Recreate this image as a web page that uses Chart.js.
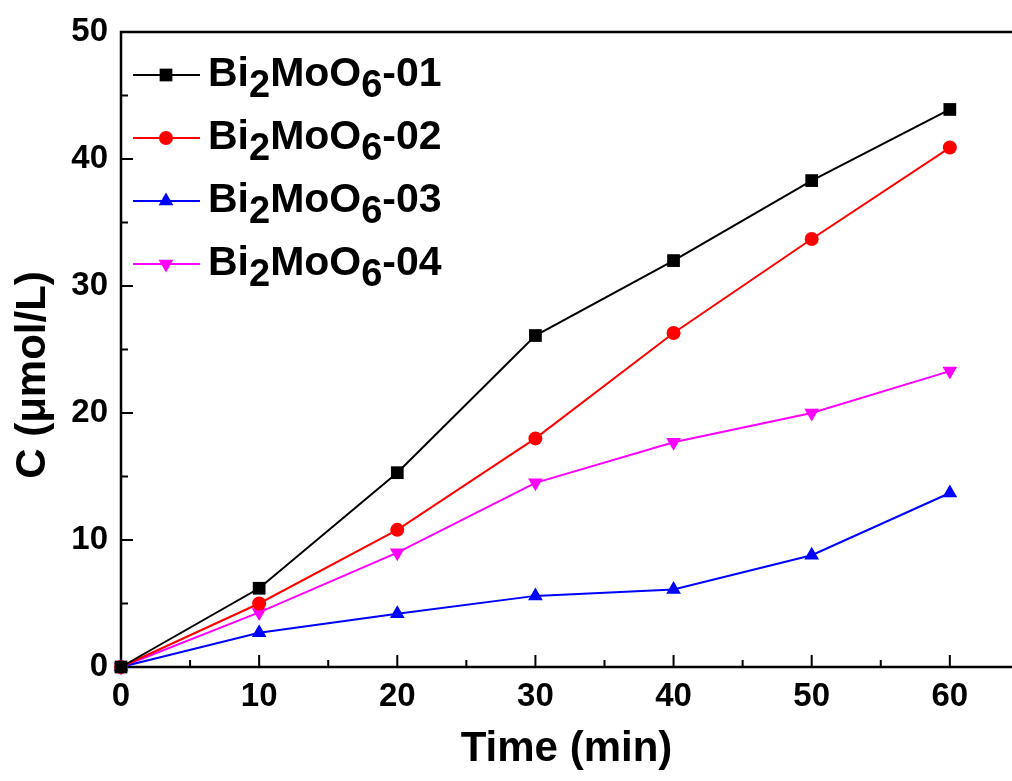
<!DOCTYPE html>
<html>
<head>
<meta charset="utf-8">
<script src="https://cdn.jsdelivr.net/npm/chart.js@4/dist/chart.umd.min.js"></script>
<style>
  body { margin: 0; background: #fff; }
  canvas { display: block; }
</style>
</head>
<body>
<canvas id="chart" width="1012" height="781"></canvas>
<script>
// data
const times = [0, 10, 20, 30, 40, 50, 60];
const bmo01 = [0, 6.2, 15.3, 26.1, 32.0, 38.3, 43.9];
const bmo02 = [0, 5.0, 10.8, 18.0, 26.3, 33.7, 40.9];
const bmo03 = [0, 2.7, 4.2, 5.6, 6.1, 8.8, 13.7];
const bmo04 = [0, 4.3, 9.0, 14.5, 17.7, 20.0, 23.3];
const sampleIds = ["01", "02", "03", "04"];
const xTicks = [0, 10, 20, 30, 40, 50, 60];
const yTicks = [0, 10, 20, 30, 40, 50];
const yTitle = "C (μmol/L)";

const FONT = "'Liberation Sans', Arial, sans-serif";

const toPoints = (ys) => times.map((t, i) => ({ x: t, y: ys[i] }));

function makeSet(id, ys, color, style, radius, rotation) {
  return {
    label: "Bi2MoO6-" + id,
    data: toPoints(ys),
    borderColor: color,
    backgroundColor: color,
    borderWidth: 2,
    pointStyle: style,
    pointRadius: radius,
    pointRotation: rotation || 0,
    pointBorderWidth: 0,
    tension: 0,
    clip: false,
  };
}

const datasets = [
  makeSet(sampleIds[0], bmo01, "#000000", "rect", 9),
  makeSet(sampleIds[1], bmo02, "#ff0000", "circle", 7),
  makeSet(sampleIds[2], bmo03, "#0000ff", "triangle", 8.5),
  makeSet(sampleIds[3], bmo04, "#ff00ff", "triangle", 8.5, 180),
];

// frame + inward ticks, origin style; y title drawn here (it sits off-centre)
const frameAxes = {
  id: "frameAxes",
  beforeDatasetsDraw(chart) {
    const { ctx, chartArea: a, scales } = chart;
    ctx.save();
    ctx.strokeStyle = "#000";
    ctx.lineWidth = 2.5;
    ctx.beginPath();
    ctx.moveTo(a.right + 2, a.top);
    ctx.lineTo(a.left, a.top);
    ctx.lineTo(a.left, a.bottom);
    ctx.lineTo(a.right + 2, a.bottom);
    ctx.stroke();
    ctx.lineWidth = 2;
    ctx.beginPath();
    for (let v = 5; v <= 60; v += 5) {
      const px = scales.x.getPixelForValue(v);
      const len = v % 10 === 0 ? 12 : 7;
      ctx.moveTo(px, a.bottom);
      ctx.lineTo(px, a.bottom - len);
    }
    for (let v = 5; v < 50; v += 5) {
      const py = scales.y.getPixelForValue(v);
      const len = v % 10 === 0 ? 12 : 7;
      ctx.moveTo(a.left, py);
      ctx.lineTo(a.left + len, py);
    }
    ctx.stroke();

    ctx.translate(33, 375);
    ctx.rotate(-Math.PI / 2);
    ctx.fillStyle = "#000";
    ctx.font = "bold 42px " + FONT;
    ctx.textAlign = "center";
    ctx.textBaseline = "middle";
    ctx.fillText(yTitle, 0, 0);
    ctx.restore();
  },
};

function drawMarker(ctx, ds, x, y) {
  const r = ds.pointRadius;
  ctx.fillStyle = ds.backgroundColor;
  ctx.beginPath();
  if (ds.pointStyle === "rect") {
    const s = r * Math.SQRT1_2;
    ctx.rect(x - s, y - s, 2 * s, 2 * s);
  } else if (ds.pointStyle === "circle") {
    ctx.arc(x, y, r, 0, Math.PI * 2);
  } else {
    let rad = (ds.pointRotation || 0) * Math.PI / 180;
    ctx.moveTo(x + Math.sin(rad) * r, y - Math.cos(rad) * r);
    rad += 2 * Math.PI / 3;
    ctx.lineTo(x + Math.sin(rad) * r, y - Math.cos(rad) * r);
    rad += 2 * Math.PI / 3;
    ctx.lineTo(x + Math.sin(rad) * r, y - Math.cos(rad) * r);
    ctx.closePath();
  }
  ctx.fill();
}

// legend with subscripts (Bi2MoO6)
const subLegend = {
  id: "subLegend",
  afterDraw(chart) {
    const { ctx } = chart;
    ctx.save();
    chart.data.datasets.forEach((ds, i) => {
      const rowY = 75 + i * 63;
      ctx.strokeStyle = ds.borderColor;
      ctx.lineWidth = 2;
      ctx.beginPath();
      ctx.moveTo(133, rowY);
      ctx.lineTo(200, rowY);
      ctx.stroke();
      drawMarker(ctx, ds, 166, rowY);

      const parts = [["Bi", 0], ["2", 1], ["MoO", 0], ["6", 1], ["-" + sampleIds[i], 0]];
      let x = 208;
      const base = rowY + 10.5;
      ctx.fillStyle = "#000";
      ctx.textBaseline = "alphabetic";
      ctx.textAlign = "left";
      parts.forEach(([txt, sub]) => {
        ctx.font = "bold " + (sub ? 38 : 41) + "px " + FONT;
        ctx.fillText(txt, x, sub ? base + 11 : base);
        x += ctx.measureText(txt).width;
      });
    });
    ctx.restore();
  },
};

new Chart(document.getElementById("chart"), {
  type: "line",
  data: { datasets },
  options: {
    responsive: false,
    animation: false,
    layout: { autoPadding: false, padding: { top: 32, right: 0, left: 0, bottom: 0 } },
    plugins: { legend: { display: false }, tooltip: { enabled: false } },
    scales: {
      x: {
        type: "linear",
        min: 0,
        max: 64.5,
        afterBuildTicks: (s) => { s.ticks = xTicks.map((v) => ({ value: v })); },
        afterFit: (s) => { s.height = 114; s.paddingRight = 0; s.paddingLeft = 0; },
        grid: { display: false, drawTicks: false },
        border: { display: false },
        ticks: { color: "#000", padding: 10, maxRotation: 0, font: { family: FONT, size: 33, weight: "bold" } },
        title: {
          display: true,
          text: "Time (min)",
          color: "#000",
          padding: { top: 0, bottom: 6 },
          font: { family: FONT, size: 42, weight: "bold" },
        },
      },
      y: {
        type: "linear",
        min: 0,
        max: 50,
        afterBuildTicks: (s) => { s.ticks = yTicks.map((v) => ({ value: v })); },
        afterFit: (s) => { s.width = 121; s.paddingTop = 0; s.paddingBottom = 0; },
        grid: { display: false, drawTicks: false },
        border: { display: false },
        ticks: { color: "#000", padding: 13, font: { family: FONT, size: 33, weight: "bold" } },
      },
    },
  },
  plugins: [frameAxes, subLegend],
});
</script>
</body>
</html>
